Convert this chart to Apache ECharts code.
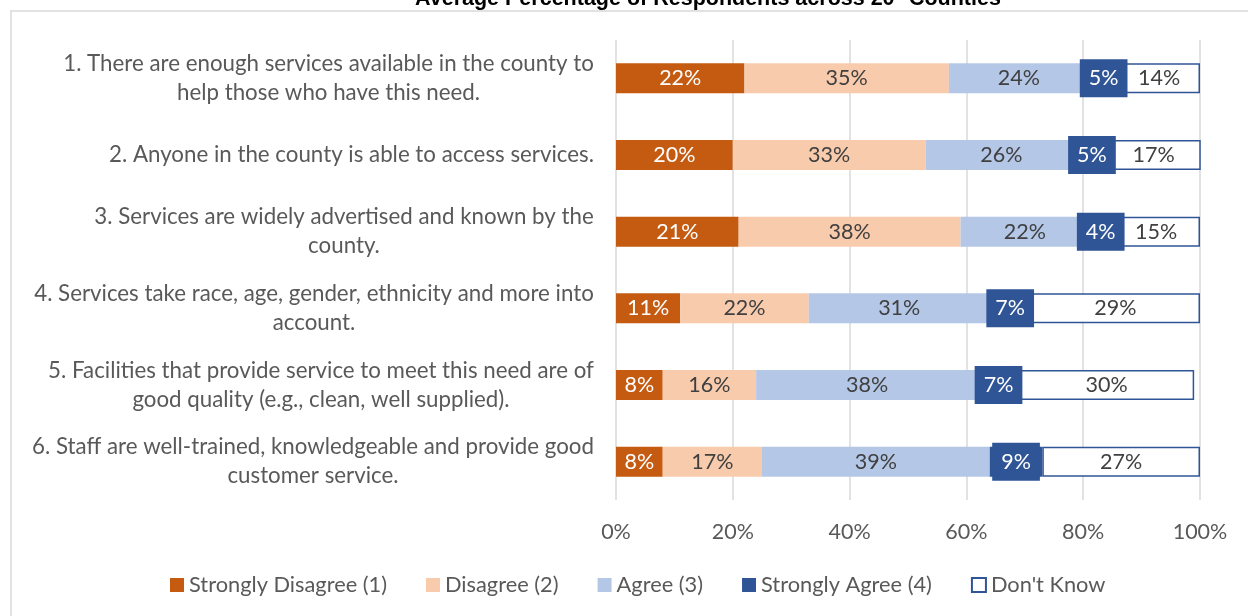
<!DOCTYPE html>
<html>
<head>
<meta charset="utf-8">
<script src="https://cdn.jsdelivr.net/npm/echarts@6/dist/echarts.min.js"></script>
<style>
  html, body { margin: 0; padding: 0; background: #fff; }
  #chart { width: 1248px; height: 616px; }
</style>
</head>
<body>
<div id="chart"></div>
<script>
// Survey statements (top to bottom) and the share of answers per response level
const statements = [
  '1. There are enough services available in the county to\nhelp those who have this need.',
  '2. Anyone in the county is able to access services.',
  '3. Services are widely advertised and known by the\ncounty.',
  '4. Services take race, age, gender, ethnicity and more into\naccount.',
  '5. Facilities that provide service to meet this need are of\ngood quality (e.g., clean, well supplied).',
  '6. Staff are well-trained, knowledgeable and provide good\ncustomer service.'
];
const stronglyDisagree = [22, 20, 21, 11, 8, 8];
const disagree         = [35, 33, 38, 22, 16, 17];
const agree            = [24, 26, 22, 31, 38, 39];
const stronglyAgree    = [5, 5, 4, 7, 7, 9];
const dontKnow         = [14, 17, 15, 29, 30, 27];
const seriesNames = ['Strongly Disagree (1)', 'Disagree (2)', 'Agree (3)', 'Strongly Agree (4)', "Don't Know"];
const percentTicks = [0, 20, 40, 60, 80, 100];

const FONT = 'Lato, "Open Sans", sans-serif';
const FS = 21.5;
const FS_CAT = 22.3;
const GREY_TEXT = '#595959';
const DARK_TEXT = '#404040';

// Category labels: each block sits right-aligned against the axis,
// while its lines are centred on one another.
const measureCtx = document.createElement('canvas').getContext('2d');
measureCtx.font = FS_CAT + 'px Lato';
const richStyles = {};
statements.forEach((s, i) => {
  const w = Math.max(...s.split('\n').map(l => measureCtx.measureText(l).width));
  richStyles['r' + i] = {
    width: Math.ceil(w) + 2,
    align: 'center',
    fontSize: FS_CAT,
    lineHeight: 29,
    color: GREY_TEXT,
    fontFamily: FONT
  };
});

const chart = echarts.init(document.getElementById('chart'), null, { renderer: 'canvas' });

function segment(name, data, color, labelColor, extra) {
  return Object.assign({
    name: name,
    type: 'bar',
    stack: 'total',
    data: data,
    barWidth: 30,
    itemStyle: { color: color },
    label: {
      show: true,
      position: 'inside',
      formatter: p => p.value + '%',
      color: labelColor,
      fontSize: FS,
      fontFamily: FONT
    },
    emphasis: { disabled: true }
  }, extra || {});
}

chart.setOption({
  animation: false,
  backgroundColor: '#ffffff',
  title: {
    text: 'Average Percentage of Respondents across 20* Counties',
    left: 410,
    top: -17,
    textStyle: {
      fontFamily: '"Liberation Sans", Arial, sans-serif',
      fontWeight: 'bold',
      fontSize: 21.5,
      color: '#000000'
    }
  },
  graphic: [{
    type: 'rect',
    silent: true,
    z: -10,
    shape: { x: 11, y: 11, width: 1260, height: 640 },
    style: { fill: 'none', stroke: '#d9d9d9', lineWidth: 1.5 }
  }],
  legend: {
    top: 569,
    left: 165,
    itemWidth: 14,
    itemHeight: 14,
    itemGap: 39,
    icon: 'rect',
    data: seriesNames,
    textStyle: { fontSize: 21.8, color: GREY_TEXT, fontFamily: FONT },
    selectedMode: false
  },
  grid: {
    left: 616,
    right: 48,
    top: 40,
    bottom: 116,
    containLabel: false,
    outerBoundsMode: 'none'
  },
  xAxis: {
    type: 'value',
    min: percentTicks[0],
    max: percentTicks[percentTicks.length - 1],
    interval: 20,
    axisLine: { show: false },
    axisTick: { show: false },
    splitLine: { lineStyle: { color: '#d9d9d9', width: 1.5 } },
    axisLabel: {
      formatter: '{value}%',
      fontSize: FS,
      color: GREY_TEXT,
      fontFamily: FONT,
      margin: 21
    }
  },
  yAxis: {
    type: 'category',
    inverse: true,
    data: statements,
    axisLine: { show: false },
    axisTick: { show: false },
    axisLabel: {
      margin: 21,
      formatter: (value, idx) => value.split('\n').map(l => '{r' + idx + '|' + l + '}').join('\n'),
      rich: richStyles
    }
  },
  series: [
    segment(seriesNames[0], stronglyDisagree, '#C55A11', '#ffffff'),
    segment(seriesNames[1], disagree, '#F8CBAD', DARK_TEXT),
    segment(seriesNames[2], agree, '#B4C7E7', DARK_TEXT),
    segment(seriesNames[3], stronglyAgree, '#2F5597', '#ffffff', {
      label: {
        show: true,
        position: 'inside',
        formatter: p => p.value + '%',
        color: '#ffffff',
        fontSize: FS,
        fontFamily: FONT,
        backgroundColor: '#2F5597',
        padding: [8, 9, 7, 9],
        lineHeight: 23
      }
    }),
    segment(seriesNames[4], dontKnow, '#ffffff', DARK_TEXT, {
      itemStyle: { color: '#ffffff', borderColor: '#2F5597', borderWidth: 1.5 }
    })
  ]
});
</script>
</body>
</html>
